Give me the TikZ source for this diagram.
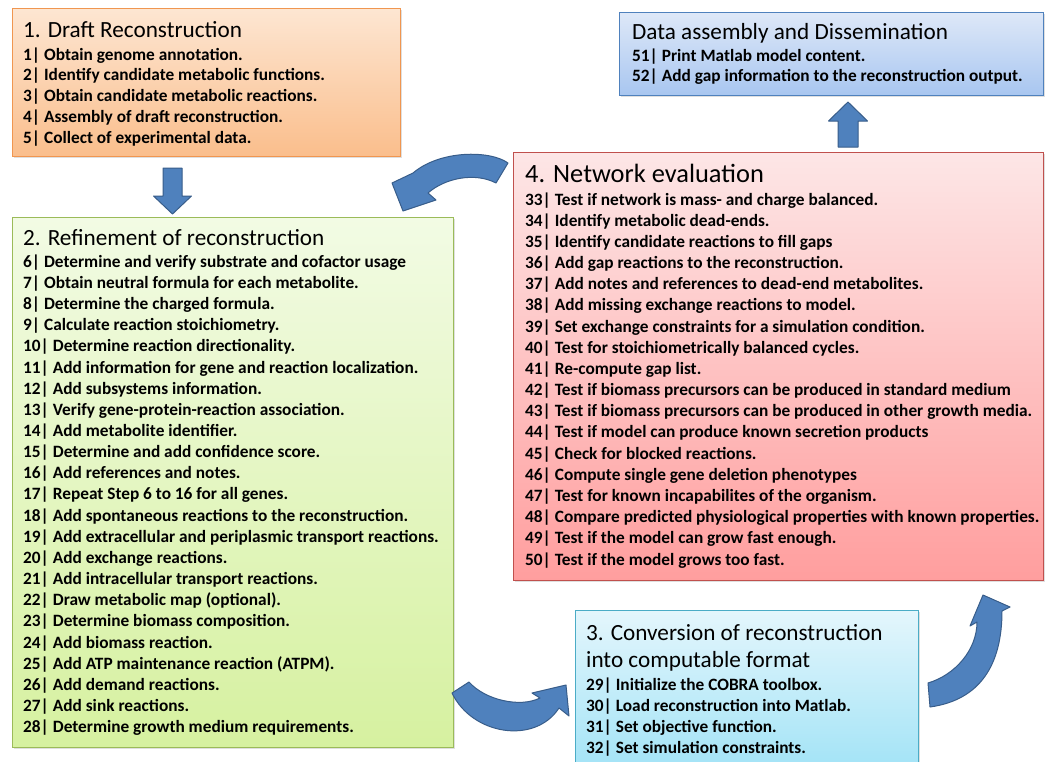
\documentclass[tikz,border=0pt]{standalone}
\usepackage{fontspec}
\setmainfont{Carlito}
\usetikzlibrary{shadows}

\definecolor{orTop}{RGB}{253,230,210}
\definecolor{orBot}{RGB}{250,190,140}
\definecolor{orEdge}{RGB}{240,150,80}
\definecolor{grTop}{RGB}{242,251,228}
\definecolor{grBot}{RGB}{214,241,160}
\definecolor{grEdge}{RGB}{155,187,89}
\definecolor{rdTop}{RGB}{253,230,230}
\definecolor{rdBot}{RGB}{255,158,158}
\definecolor{rdEdge}{RGB}{192,80,77}
\definecolor{blTop}{RGB}{222,232,248}
\definecolor{blBot}{RGB}{168,198,240}
\definecolor{blEdge}{RGB}{79,129,189}
\definecolor{cyTop}{RGB}{228,246,252}
\definecolor{cyBot}{RGB}{158,226,246}
\definecolor{cyEdge}{RGB}{75,172,198}
\definecolor{arFill}{RGB}{79,129,189}
\definecolor{arEdge}{RGB}{56,93,138}

\tikzset{
  box/.style={draw, line width=0.8pt, anchor=north west, inner sep=0pt,
    drop shadow={opacity=0.25, shadow xshift=1.5pt, shadow yshift=-2pt}},
  ttl/.style={anchor=base west, inner sep=0pt, font=\fontsize{23.2}{27}\selectfont},
  bigttl/.style={ttl, font=\fontsize{26.4}{30}\selectfont},
  itm/.style={anchor=base west, inner sep=0pt, font=\fontsize{17.3}{21}\selectfont\bfseries},
  blockarrow/.style={fill=arFill, draw=arEdge, line width=1pt, line join=round},
}

\begin{document}
\begin{tikzpicture}[x=1pt,y=-1pt]
\clip (0,0) rectangle (1045,761);
\fill[white] (0,0) rectangle (1045,761);

% step boxes
\node[box, draw=orEdge, top color=orTop, bottom color=orBot,
  minimum width=388pt, minimum height=148pt] (b1) at (12,8) {};
\node[box, draw=grEdge, top color=grTop, bottom color=grBot,
  minimum width=441pt, minimum height=530pt] (b2) at (12,217) {};
\node[box, draw=rdEdge, top color=rdTop, bottom color=rdBot,
  minimum width=530pt, minimum height=428pt] (b4) at (513,152) {};
\node[box, draw=blEdge, top color=blTop, bottom color=blBot,
  minimum width=424pt, minimum height=83pt] (b5) at (619,12) {};
\node[box, draw=cyEdge, top color=cyTop, bottom color=cyBot,
  minimum width=343pt, minimum height=170pt] (b3) at (575,610) {};

% straight block arrows
\filldraw[blockarrow] (163,168) -- (182,168) -- (182,196) -- (191.5,196)
  -- (172.5,214) -- (153.5,196) -- (163,196) -- cycle;
\filldraw[blockarrow] (838,147) -- (858,147) -- (858,121) -- (867.5,121)
  -- (848,102) -- (828.5,121) -- (838,121) -- cycle;

% curved block arrows
\filldraw[blockarrow] (508,163) .. controls (490,150) and (440,150) .. (413,173)
  -- (392,183) -- (403,211) -- (436,200) -- (428,193)
  .. controls (445,178) and (475,172) .. (496,183) -- cycle;
\filldraw[blockarrow] (452,693) .. controls (472,735) and (535,745) .. (559,708)
  -- (569,716) -- (566,685) -- (532,693) -- (540,698)
  .. controls (520,708) and (485,700) .. (469,682) -- cycle;
\filldraw[blockarrow] (928,683) .. controls (955,675) and (977,650) .. (977,622)
  -- (970,626) -- (983,595) -- (1010,607) -- (1002,611)
  .. controls (1002,665) and (980,700) .. (930,707) -- cycle;

% 1. Draft Reconstruction
\node[ttl] (t1) at (23,37) {1. Draft Reconstruction};
\foreach \txt [count=\i] in {
  {1| Obtain genome annotation.},
  {2| Identify candidate metabolic functions.},
  {3| Obtain candidate metabolic reactions.},
  {4| Assembly of draft reconstruction.},
  {5| Collect of experimental data.}}
  \node[itm] (s1l\i) at (23,{60+20.8*(\i-1)}) {\txt};

% 2. Refinement of reconstruction
\node[ttl] (t2) at (23,245) {2. Refinement of reconstruction};
\foreach \txt [count=\i] in {
  {6| Determine and verify substrate and cofactor usage},
  {7| Obtain neutral formula for each metabolite.},
  {8| Determine the charged formula.},
  {9| Calculate reaction stoichiometry.},
  {10| Determine reaction directionality.},
  {11| Add information for gene and reaction localization.},
  {12| Add subsystems information.},
  {13| Verify gene-protein-reaction association.},
  {14| Add metabolite identifier.},
  {15| Determine and add confidence score.},
  {16| Add references and notes.},
  {17| Repeat Step 6 to 16 for all genes.},
  {18| Add spontaneous reactions to the reconstruction.},
  {19| Add extracellular and periplasmic transport reactions.},
  {20| Add exchange reactions.},
  {21| Add intracellular transport reactions.},
  {22| Draw metabolic map (optional).},
  {23| Determine biomass composition.},
  {24| Add biomass reaction.},
  {25| Add ATP maintenance reaction (ATPM).},
  {26| Add demand reactions.},
  {27| Add sink reactions.},
  {28| Determine growth medium requirements.}}
  \node[itm] (s2l\i) at (23,{267.3+21.15*(\i-1)}) {\txt};

% 4. Network evaluation
\node[bigttl] (t4) at (525,182) {4. Network evaluation};
\foreach \txt [count=\i] in {
  {33| Test if network is mass- and charge balanced.},
  {34| Identify metabolic dead-ends.},
  {35| Identify candidate reactions to fill gaps},
  {36| Add gap reactions to the reconstruction.},
  {37| Add notes and references to dead-end metabolites.},
  {38| Add missing exchange reactions to model.},
  {39| Set exchange constraints for a simulation condition.},
  {40| Test for stoichiometrically balanced cycles.},
  {41| Re-compute gap list.},
  {42| Test if biomass precursors can be produced in standard medium},
  {43| Test if biomass precursors can be produced in other growth media.},
  {44| Test if model can produce known secretion products},
  {45| Check for blocked reactions.},
  {46| Compute single gene deletion phenotypes},
  {47| Test for known incapabilites of the organism.},
  {48| Compare predicted physiological properties with known properties.},
  {49| Test if the model can grow fast enough.},
  {50| Test if the model grows too fast.}}
  \node[itm] (s4l\i) at (525,{205+21.18*(\i-1)}) {\txt};

% Data assembly and Dissemination
\node[ttl] (t5) at (632,39.5) {Data assembly and Dissemination};
\node[itm] (s5l1) at (632,61) {51| Print Matlab model content.};
\node[itm] (s5l2) at (632,81.7) {52| Add gap information to the reconstruction output.};

% 3. Conversion of reconstruction into computable format
\node[ttl] (t3a) at (586,640) {3. Conversion of reconstruction};
\node[ttl] (t3b) at (586,667) {into computable format};
\foreach \txt [count=\i] in {
  {29| Initialize the COBRA toolbox.},
  {30| Load reconstruction into Matlab.},
  {31| Set objective function.},
  {32| Set simulation constraints.}}
  \node[itm] (s3l\i) at (586,{690+21*(\i-1)}) {\txt};

\end{tikzpicture}
\end{document}
